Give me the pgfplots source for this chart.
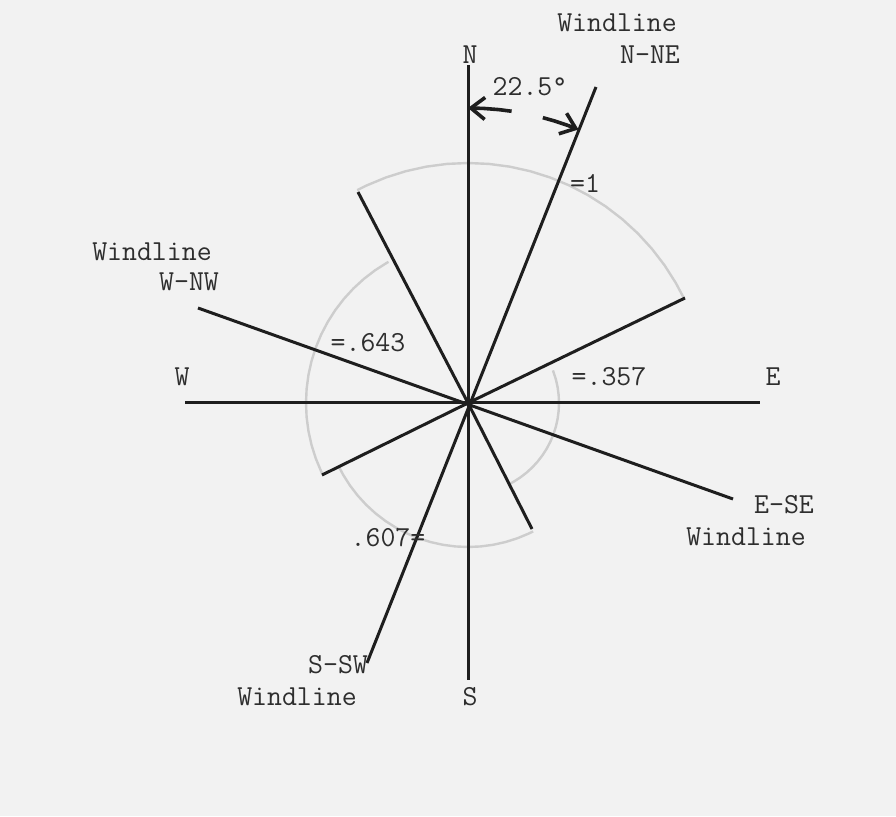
\documentclass[border=0pt]{standalone}
\usepackage{fontspec}
\setmonofont{Latin Modern Mono}
\usepackage{pgfplots}
\pgfplotsset{compat=1.18}
\usetikzlibrary{arrows.meta}
\definecolor{bg}{HTML}{F2F2F2}
\definecolor{ink}{HTML}{1E1E1E}
\definecolor{arcgray}{HTML}{CDCDCD}
\definecolor{txt}{HTML}{2E2E2E}
\tikzset{lbl/.style={font=\ttfamily\fontsize{14.5}{17}\selectfont, text=txt, inner sep=0pt}}
\begin{document}
\begin{tikzpicture}
\begin{axis}[
  x=0.5pt, y=0.5pt,
  xmin=-468, xmax=428, ymin=-413, ymax=403,
  hide axis, clip=false,
]
\fill[bg] (axis cs:-468,-413) rectangle (axis cs:428,403);
% sector arcs (polar: angle in degrees, radius)
\addplot[arcgray, line width=1.2pt, data cs=polar] coordinates {
(117.5,240)(115,240)(110,240)(105,240)(100,240)(95,240)(90,240)(85,240)(80,240)(75,240)(70,240)(65,240)(60,240)(55,240)(50,240)(45,240)(40,240)(35,240)(30,240)(25.8,240)};
\addplot[arcgray, line width=1.2pt, data cs=polar] coordinates {
(119.4,162)(120,162)(125,162)(130,162)(135,162)(140,162)(145,162)(150,162)(155,162)(160,162)(165,162)(170,162)(175,162)(180,162)(185,162)(190,162)(195,162)(200,162)(205,162)(206.3,162)};
\addplot[arcgray, line width=1.2pt, data cs=polar] coordinates {
(206.3,144)(210,144)(215,144)(220,144)(225,144)(230,144)(235,144)(240,144)(245,144)(250,144)(255,144)(260,144)(265,144)(270,144)(275,144)(280,144)(285,144)(290,144)(295,144)(296.9,144)};
\addplot[arcgray, line width=1.2pt, data cs=polar] coordinates {
(-63.1,91)(-60,91)(-55,91)(-50,91)(-45,91)(-40,91)(-35,91)(-30,91)(-25,91)(-20,91)(-15,91)(-10,91)(-5,91)(0,91)(5,91)(10,91)(15,91)(21,91)};
% compass lines and windlines
\addplot[ink, line width=1.5pt] coordinates {(0,338)(0,-277)};
\addplot[ink, line width=1.5pt] coordinates {(-283,0)(292,0)};
\addplot[ink, line width=1.5pt] coordinates {(128,316)(-101,-260)};
\addplot[ink, line width=1.5pt] coordinates {(-270,95)(265,-96)};
% sector boundary rays
\addplot[ink, line width=1.5pt] coordinates {(0,0)(-110,211)};
\addplot[ink, line width=1.5pt] coordinates {(0,0)(217,105)};
\addplot[ink, line width=1.5pt] coordinates {(0,0)(-146,-72)};
\addplot[ink, line width=1.5pt] coordinates {(0,0)(64,-126)};
% 22.5 degree arrows
\addplot[ink, line width=1.8pt, data cs=polar, -{Straight Barb[length=7pt,width=11pt,line width=1.8pt]}] coordinates {(81.5,295)(84,295)(87,295)(90,295)};
\addplot[ink, line width=1.8pt, data cs=polar, -{Straight Barb[length=7pt,width=11pt,line width=1.8pt]}] coordinates {(75.3,295)(73,295)(70.5,295)(68,295)};
% labels
\node[lbl] at (axis cs:2,348) {N};
\node[lbl] at (axis cs:2,-294) {S};
\node[lbl] at (axis cs:-286,26) {W};
\node[lbl] at (axis cs:305,26) {E};
\node[lbl] at (axis cs:149,380) {Windline};
\node[lbl] at (axis cs:182,348) {N-NE};
\node[lbl] at (axis cs:62,316) {22.5°};
\node[lbl] at (axis cs:117,220) {=1};
\node[lbl] at (axis cs:-316,151) {Windline};
\node[lbl] at (axis cs:-279,121) {W-NW};
\node[lbl] at (axis cs:-100,60) {=.643};
\node[lbl] at (axis cs:141,26) {=.357};
\node[lbl] at (axis cs:316,-102) {E-SE};
\node[lbl] at (axis cs:278,-134) {Windline};
\node[lbl] at (axis cs:-80,-135) {.607=};
\node[lbl] at (axis cs:-130,-262) {S-SW};
\node[lbl] at (axis cs:-171,-294) {Windline};
\end{axis}
\end{tikzpicture}
\end{document}
